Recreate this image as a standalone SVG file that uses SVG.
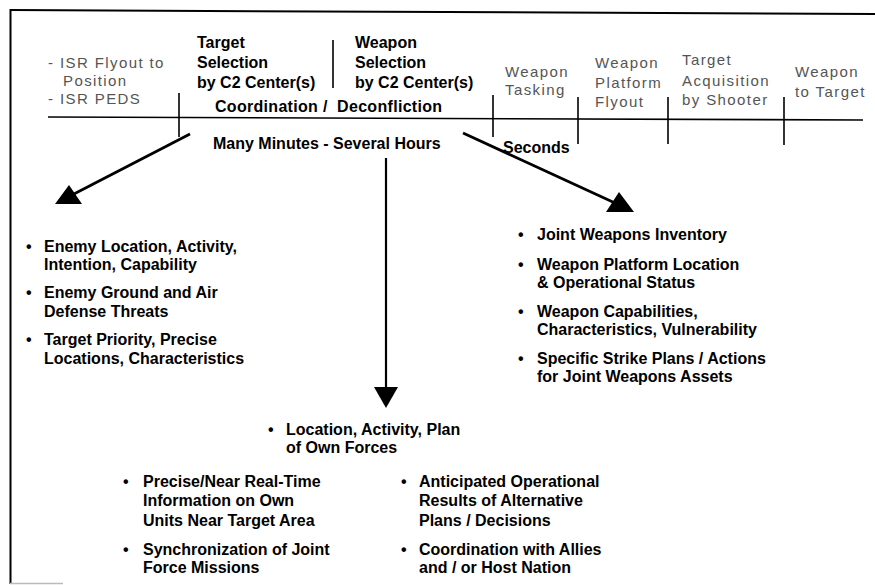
<svg xmlns="http://www.w3.org/2000/svg" width="875" height="585" viewBox="0 0 875 585">
<style>
.b{font-family:"Liberation Sans",Arial,sans-serif;font-weight:bold;font-size:16px;fill:#000}
.g{font-family:"Liberation Sans",Arial,sans-serif;font-size:15px;fill:#555;letter-spacing:1.4px}
.ln{stroke:#000;fill:none}
.tick{stroke:#000;stroke-width:1.6}
.arr{stroke:#000;stroke-width:2.8;fill:none}
.hd{fill:#000}
</style>
<rect width="875" height="585" fill="#fff"/>
<g id="frame">
<line class="ln" x1="10" y1="10" x2="875" y2="14" stroke-width="2"/>
<line class="ln" x1="10.5" y1="9" x2="10.5" y2="584" stroke-width="2"/>
<line x1="10" y1="583.5" x2="63" y2="583.5" stroke="#bbb" stroke-width="1.5"/>
</g>
<g id="timeline">
<line class="ln" x1="48" y1="117" x2="863" y2="120" stroke-width="1.6"/>
<line class="tick" x1="179" y1="93" x2="179" y2="137"/>
<line class="tick" x1="333" y1="40" x2="333" y2="88"/>
<line class="tick" x1="493" y1="95" x2="493" y2="137"/>
<line class="tick" x1="578" y1="97" x2="578" y2="144"/>
<line class="tick" x1="668" y1="97" x2="668" y2="144"/>
<line class="tick" x1="784" y1="97" x2="784" y2="145"/>
</g>
<g id="isr">
<text class="g" x="48" y="68">- ISR Flyout to</text>
<text class="g" x="63" y="86">Position</text>
<text class="g" x="48" y="104">- ISR PEDS</text>
</g>
<g id="target-selection">
<text class="b" x="197" y="48">Target</text>
<text class="b" x="197" y="68">Selection</text>
<text class="b" x="197" y="88">by C2 Center(s)</text>
</g>
<g id="weapon-selection">
<text class="b" x="355" y="48">Weapon</text>
<text class="b" x="355" y="68">Selection</text>
<text class="b" x="355" y="88">by C2 Center(s)</text>
</g>
<g id="coordination">
<text class="b" x="215" y="112" xml:space="preserve" letter-spacing="0.3">Coordination /  Deconfliction</text>
</g>
<g id="many-minutes">
<text class="b" x="213" y="149">Many Minutes - Several Hours</text>
</g>
<g id="seconds">
<text class="b" x="503" y="153">Seconds</text>
</g>
<g id="weapon-tasking">
<text class="g" x="505" y="77">Weapon</text>
<text class="g" x="505" y="95">Tasking</text>
</g>
<g id="platform-flyout">
<text class="g" x="595" y="68">Weapon</text>
<text class="g" x="595" y="88">Platform</text>
<text class="g" x="595" y="107">Flyout</text>
</g>
<g id="target-acquisition">
<text class="g" x="682" y="65">Target</text>
<text class="g" x="682" y="86">Acquisition</text>
<text class="g" x="682" y="105">by Shooter</text>
</g>
<g id="weapon-to-target">
<text class="g" x="795" y="77">Weapon</text>
<text class="g" x="795" y="97">to Target</text>
</g>
<g id="connectors">
<line class="arr" x1="190" y1="134" x2="72" y2="195"/>
<polygon class="hd" points="55,204 82,204 69,185"/>
<line class="arr" x1="463" y1="133" x2="615" y2="203"/>
<polygon class="hd" points="606,212 634,212 619,192"/>
<line class="ln" x1="386" y1="158" x2="386" y2="390" stroke-width="2.2"/>
<polygon class="hd" points="374,387 398,387 386,408"/>
</g>
<g id="enemy-info">
<text class="b" x="26" y="252">•</text>
<text class="b" x="44" y="252">Enemy Location, Activity,</text>
<text class="b" x="44" y="270">Intention, Capability</text>
<text class="b" x="26" y="298">•</text>
<text class="b" x="44" y="298">Enemy Ground and Air</text>
<text class="b" x="44" y="317">Defense Threats</text>
<text class="b" x="26" y="345">•</text>
<text class="b" x="44" y="345">Target Priority, Precise</text>
<text class="b" x="44" y="364">Locations, Characteristics</text>
</g>
<g id="weapons-info">
<text class="b" x="518" y="240">•</text>
<text class="b" x="537" y="240">Joint Weapons Inventory</text>
<text class="b" x="518" y="270">•</text>
<text class="b" x="537" y="270">Weapon Platform Location</text>
<text class="b" x="537" y="288">&amp; Operational Status</text>
<text class="b" x="518" y="317">•</text>
<text class="b" x="537" y="317">Weapon Capabilities,</text>
<text class="b" x="537" y="335">Characteristics, Vulnerability</text>
<text class="b" x="518" y="364">•</text>
<text class="b" x="537" y="364">Specific Strike Plans / Actions</text>
<text class="b" x="537" y="382">for Joint Weapons Assets</text>
</g>
<g id="own-forces-info">
<text class="b" x="268" y="435">•</text>
<text class="b" x="286" y="435">Location, Activity, Plan</text>
<text class="b" x="286" y="453">of Own Forces</text>
<text class="b" x="123" y="487">•</text>
<text class="b" x="143" y="487">Precise/Near Real-Time</text>
<text class="b" x="143" y="506">Information on Own</text>
<text class="b" x="143" y="526">Units Near Target Area</text>
<text class="b" x="123" y="555">•</text>
<text class="b" x="143" y="555">Synchronization of Joint</text>
<text class="b" x="143" y="573">Force Missions</text>
<text class="b" x="401" y="487">•</text>
<text class="b" x="419" y="487">Anticipated Operational</text>
<text class="b" x="419" y="506">Results of Alternative</text>
<text class="b" x="419" y="526">Plans / Decisions</text>
<text class="b" x="401" y="555">•</text>
<text class="b" x="419" y="555">Coordination with Allies</text>
<text class="b" x="419" y="573">and / or Host Nation</text>
</g>
</svg>
